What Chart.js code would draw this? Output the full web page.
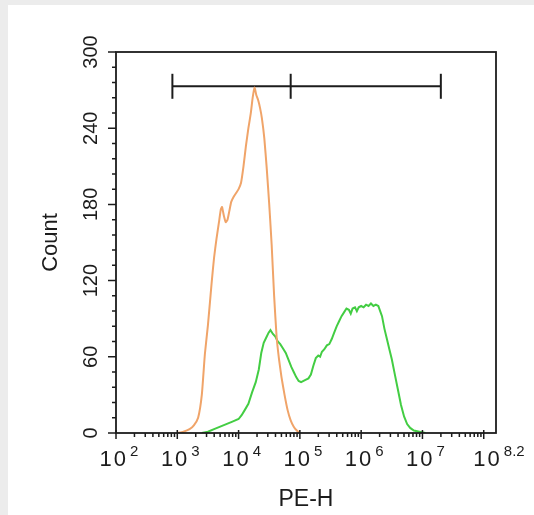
<!DOCTYPE html>
<html>
<head>
<meta charset="utf-8">
<script src="https://cdn.jsdelivr.net/npm/chart.js@4.4.1/dist/chart.umd.min.js"></script>
<style>
  html, body { margin: 0; padding: 0; background: #ececec; }
  #panel { position: absolute; left: 8px; top: 5px; width: 526px; height: 510px; background: #fff; }
</style>
</head>
<body>
<div id="panel"><canvas id="histChart"></canvas></div>
<script>
// PE-H positions are in decades (value = 10^x)
var orangeX = [3.00, 3.10, 3.20, 3.27, 3.34, 3.40, 3.45, 3.50, 3.56, 3.60, 3.64, 3.68, 3.71, 3.73, 3.76, 3.79,
  3.82, 3.85, 3.88, 3.92, 3.96, 4.00, 4.04, 4.08, 4.12, 4.16, 4.20, 4.23, 4.26, 4.29, 4.32, 4.35, 4.38, 4.42,
  4.46, 4.50, 4.54, 4.58, 4.62, 4.66, 4.70, 4.75, 4.80, 4.85, 4.90, 4.95, 5.00];
var orangeCount = [0, 1, 3, 6, 12, 30, 62, 85, 118, 138, 153, 166, 176, 178, 171, 166,
  168, 175, 182, 186, 189, 192, 197, 210, 226, 240, 252, 264, 272, 266, 262, 256, 248, 232,
  208, 180, 148, 108, 76, 58, 44, 30, 18, 10, 5, 2, 0];

var greenX = [3.40, 3.50, 3.60, 3.70, 3.80, 3.90, 4.00, 4.05, 4.10, 4.16, 4.22, 4.28, 4.33, 4.37, 4.41, 4.45,
  4.49, 4.52, 4.56, 4.60, 4.64, 4.68, 4.72, 4.77, 4.82, 4.86, 4.90, 4.94, 4.98, 5.02, 5.06, 5.10, 5.14, 5.18,
  5.22, 5.26, 5.30, 5.33, 5.36, 5.40, 5.44, 5.48, 5.52, 5.56, 5.60, 5.64, 5.68, 5.72, 5.76, 5.80, 5.83, 5.86,
  5.90, 5.93, 5.96, 6.00, 6.04, 6.08, 6.12, 6.16, 6.20, 6.24, 6.28, 6.31, 6.34, 6.38, 6.42, 6.46, 6.50, 6.55,
  6.60, 6.65, 6.70, 6.75, 6.80, 6.86, 6.95, 7.05];
var greenCount = [0, 1, 3, 5, 7, 9, 11, 14, 18, 23, 32, 40, 50, 63, 71, 75,
  79, 81, 78, 76, 72, 70, 67, 63, 57, 52, 48, 44, 41, 40, 41, 42, 43, 46,
  53, 59, 61, 60, 64, 66, 69, 70, 74, 79, 84, 88, 92, 95, 98, 97, 94, 98,
  99, 96, 99, 100, 99, 101, 100, 102, 100, 101, 100, 96, 92, 82, 74, 66, 58, 46,
  34, 22, 13, 7, 4, 2, 1, 0];

// marker gate: left end, split, right end
var gateX = [2.92, 4.85, 7.30];
var gateCount = [273, 273, 273];

var xTickExp = [2, 3, 4, 5, 6, 7, 8.2];
var xTickText = ['2', '3', '4', '5', '6', '7', '8.2'];
var yTicks = [0, 60, 120, 180, 240, 300];

var fontFamily = '"Liberation Sans", Arial, Helvetica, sans-serif';
var inkColor = '#1c1c1c';

function toPoints(xs, ys) {
  return xs.map(function (x, i) { return { x: x, y: ys[i] }; });
}

// box, tick marks and labels in the flow cytometry style
const flowAxes = {
  id: 'flowAxes',
  afterDatasetsDraw(chart) {
    const ctx = chart.ctx;
    const a = chart.chartArea;
    const xs = chart.scales.x;
    const ys = chart.scales.y;
    ctx.save();
    ctx.strokeStyle = inkColor;
    ctx.lineWidth = 1.8;
    ctx.strokeRect(a.left, a.top, a.right - a.left, a.bottom - a.top);

    ctx.beginPath();
    ctx.lineWidth = 1.5;
    for (let v = 0; v <= 300; v += 12) {
      const py = ys.getPixelForValue(v);
      const len = v % 60 === 0 ? 8 : 4;
      ctx.moveTo(a.left - len, py);
      ctx.lineTo(a.left, py);
    }
    for (let d = 2; d <= 8; d++) {
      const px = xs.getPixelForValue(d);
      ctx.moveTo(px, a.bottom - 3);
      ctx.lineTo(px, a.bottom + 6);
      if (d < 8) {
        for (let k = 2; k <= 9; k++) {
          const mx = xs.getPixelForValue(d + Math.log10(k));
          ctx.moveTo(mx, a.bottom);
          ctx.lineTo(mx, a.bottom + 4);
        }
      }
    }
    ctx.stroke();

    ctx.fillStyle = inkColor;
    ctx.textBaseline = 'alphabetic';
    ctx.textAlign = 'left';
    xTickExp.forEach(function (e, i) {
      const px = xs.getPixelForValue(e);
      ctx.font = '22px ' + fontFamily;
      ctx.letterSpacing = '2px';
      const w1 = ctx.measureText('10').width;
      ctx.font = '15px ' + fontFamily;
      ctx.letterSpacing = '0px';
      const w2 = ctx.measureText(xTickText[i]).width;
      const x0 = px - (w1 + 2 + w2) / 2 + 3;
      ctx.font = '22px ' + fontFamily;
      ctx.letterSpacing = '2px';
      ctx.fillText('10', x0, a.bottom + 33);
      ctx.font = '15px ' + fontFamily;
      ctx.letterSpacing = '0px';
      ctx.fillText(xTickText[i], x0 + w1 + 2, a.bottom + 23);
    });

    ctx.textAlign = 'center';
    ctx.font = '20px ' + fontFamily;
    yTicks.forEach(function (v) {
      const py = ys.getPixelForValue(v);
      ctx.save();
      ctx.translate(a.left - 19, py);
      ctx.rotate(-Math.PI / 2);
      ctx.fillText(String(v), 0, 0);
      ctx.restore();
    });

    ctx.font = '22px ' + fontFamily;
    ctx.save();
    ctx.translate(a.left - 59, (a.top + a.bottom) / 2);
    ctx.rotate(-Math.PI / 2);
    ctx.fillText('Count', 0, 0);
    ctx.restore();

    ctx.font = '23px ' + fontFamily;
    ctx.fillText('PE-H', (a.left + a.right) / 2, a.bottom + 73);
    ctx.restore();
  }
};

const data = {
  datasets: [{
    label: 'control',
    data: toPoints(orangeX, orangeCount),
    borderColor: '#f0a469',
    borderWidth: 2,
    pointRadius: 0,
    tension: 0.15
  }, {
    label: 'sample',
    data: toPoints(greenX, greenCount),
    borderColor: '#43cd43',
    borderWidth: 2,
    pointRadius: 0,
    tension: 0
  }, {
    label: 'gate',
    data: toPoints(gateX, gateCount),
    borderColor: inkColor,
    borderWidth: 2,
    pointStyle: 'line',
    pointRotation: 90,
    pointRadius: 12.5,
    pointBorderColor: inkColor,
    pointBorderWidth: 2,
    clip: false
  }]
};

const config = {
  type: 'line',
  data: data,
  options: {
    responsive: true,
    maintainAspectRatio: false,
    animation: false,
    events: [],
    layout: { padding: { left: 108, right: 38, top: 47, bottom: 82 } },
    plugins: { legend: { display: false }, tooltip: { enabled: false } },
    scales: {
      x: { type: 'linear', min: 2, max: 8.2, display: false },
      y: { type: 'linear', min: 0, max: 300, display: false }
    }
  },
  plugins: [flowAxes]
};

const myChart = new Chart(document.getElementById('histChart'), config);
</script>
</body>
</html>
